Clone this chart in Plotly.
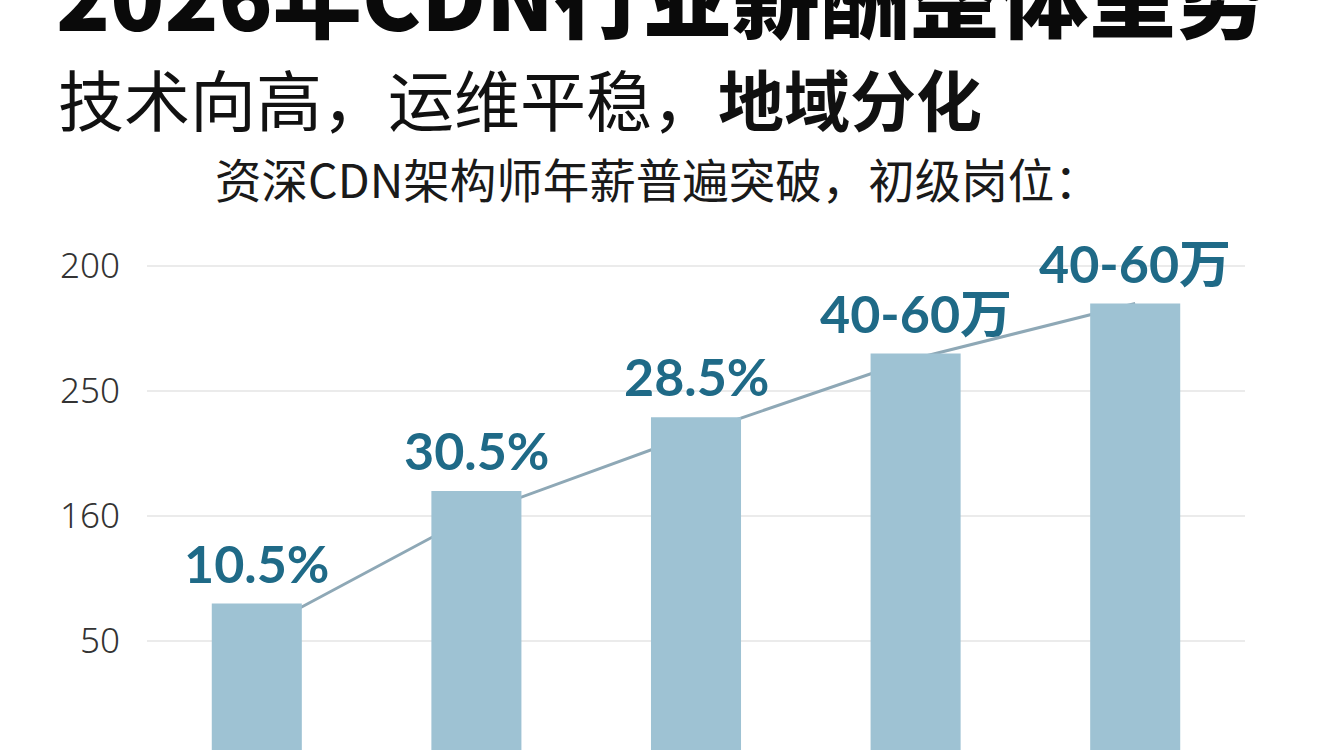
import plotly.graph_objects as go

# ---- data ----
categories = ["A", "B", "C", "D", "E"]
bar_values = [65, 110, 139.5, 165, 185]
line_values = [54, 101, 133, 163, 185]
bar_labels = ["10.5%", "30.5%", "28.5%", "40-60万", "40-60万"]
tick_vals = [50, 100, 150, 200]
tick_text = ["50", "160", "250", "200"]

title_text = "2026年CDN行业薪酬整体呈势"
subtitle_text = "技术向高，运维平稳，<b>地域分化</b>"
note_text = "资深CDN架构师年薪普遍突破，初级岗位："

W, H = 1344, 750
ML, MR, MT, MB = 147, 99, 200, 0
PW, PH = W - ML - MR, H - MT - MB


def px_x(p):
    return (p - ML) / PW


def px_y(p):
    return (H - MB - p) / PH


BAR_COLOR = "#9ec2d3"
LINE_COLOR = "#8ea8b6"
LABEL_COLOR = "#1f6a87"

fig = go.Figure()
fig.add_trace(go.Scatter(
    x=categories, y=line_values, mode="lines",
    line=dict(color=LINE_COLOR, width=3), zorder=0,
    hoverinfo="skip", showlegend=False,
))
fig.add_trace(go.Bar(
    x=categories, y=bar_values, marker=dict(color=BAR_COLOR, line=dict(width=0)),
    zorder=1, showlegend=False,
))

annotations = []
for c, v, t in zip(categories, bar_values, bar_labels):
    annotations.append(dict(
        x=c, y=v, xref="x", yref="y", text=t, showarrow=False,
        xanchor="center", yanchor="bottom", yshift=8,
        font=dict(family="Lato, 'Noto Sans CJK SC', sans-serif", size=52,
                  color=LABEL_COLOR, weight="bold"),
    ))

annotations.append(dict(
    x=px_x(54), y=px_y(-8), xref="paper", yref="paper", text=title_text,
    showarrow=False, xanchor="left", yanchor="middle",
    font=dict(family="'Noto Sans CJK SC', sans-serif", size=89, color="#0a0a0a", weight=900),
))
annotations.append(dict(
    x=px_x(56), y=px_y(97), xref="paper", yref="paper", text=subtitle_text,
    showarrow=False, xanchor="left", yanchor="middle",
    font=dict(family="'Noto Sans CJK SC', sans-serif", size=66, color="#111111"),
))
annotations.append(dict(
    x=px_x(213), y=px_y(178), xref="paper", yref="paper", text=note_text,
    showarrow=False, xanchor="left", yanchor="middle",
    font=dict(family="'Noto Sans CJK SC', sans-serif", size=46.5, color="#1a1a1a"),
))

fig.update_layout(
    width=W, height=H,
    margin=dict(l=ML, r=MR, t=MT, b=MB, pad=0),
    paper_bgcolor="#ffffff", plot_bgcolor="#ffffff",
    bargap=0.59,
    showlegend=False,
    annotations=annotations,
    xaxis=dict(type="category", showticklabels=False, showgrid=False, zeroline=False,
               showline=False, ticks=""),
    yaxis=dict(
        range=[6.4, 226.4], tickvals=tick_vals, ticktext=tick_text,
        showgrid=True, gridcolor="#ebebeb", gridwidth=1.5, zeroline=False, showline=False,
        ticks="", ticklabelstandoff=26,
        tickfont=dict(family="'Noto Sans', sans-serif", size=35, color="#333333", weight=300),
    ),
)

fig.write_html(
    "out.html",
    config={"displayModeBar": False},
    post_script="document.body.style.margin='0';document.body.style.overflow='hidden';",
)
